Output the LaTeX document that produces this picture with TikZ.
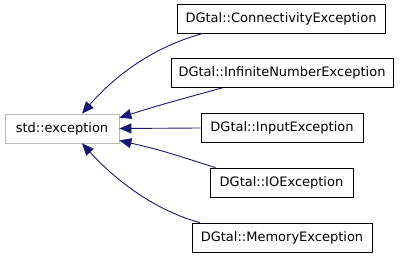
\documentclass[tikz,border=0pt]{standalone}
\usepackage{fontspec}
\setmainfont{DejaVu Sans}
\usetikzlibrary{arrows.meta}
\definecolor{edgeblue}{HTML}{191970}
\begin{document}
\begin{tikzpicture}[x=1pt,y=-1pt,
  classbox/.style={draw=black,line width=0.8pt,fill=white,minimum height=29pt,
    inner xsep=0pt,font=\fontsize{13}{15}\selectfont},
  basebox/.style={classbox,draw=black!28},
  inherit/.style={draw=edgeblue,line width=0.9pt,
    {Triangle[length=12pt,width=10pt]}-}]
\useasboundingbox (0,0) rectangle (400,259);
% base class on the left, derived exception classes stacked on the right
\node[basebox,minimum width=114pt] (std) at (62,128.5) {std::exception};
\node[classbox,minimum width=208pt] (conn) at (281,18.5) {DGtal::ConnectivityException};
\node[classbox,minimum width=222pt] (inf) at (282,73) {DGtal::InfiniteNumberException};
\node[classbox,minimum width=162pt] (inp) at (282,128) {DGtal::InputException};
\node[classbox,minimum width=143pt] (io) at (281.5,182.5) {DGtal::IOException};
\node[classbox,minimum width=180pt] (mem) at (282,237.5) {DGtal::MemoryException};
% inheritance arrows pointing at the base class
\coordinate (c1) at ([xshift=-78pt]conn.south);
\draw[inherit] ([xshift=20pt]std.north) .. controls (120,70) and (160,45) .. (c1);
\coordinate (c2) at ([xshift=-60pt]inf.south);
\draw[inherit] (std.north east) ++(0,4) .. controls (160,105) .. (c2);
\draw[inherit] (std.east) -- (inp.west);
\coordinate (c4) at ([xshift=-66pt]io.north);
\draw[inherit] (std.south east) ++(0,-3) .. controls (160,150) .. (c4);
\coordinate (c5) at ([xshift=-82pt]mem.north);
\draw[inherit] ([xshift=20pt]std.south) .. controls (120,185) and (160,212) .. (c5);
\end{tikzpicture}
\end{document}
